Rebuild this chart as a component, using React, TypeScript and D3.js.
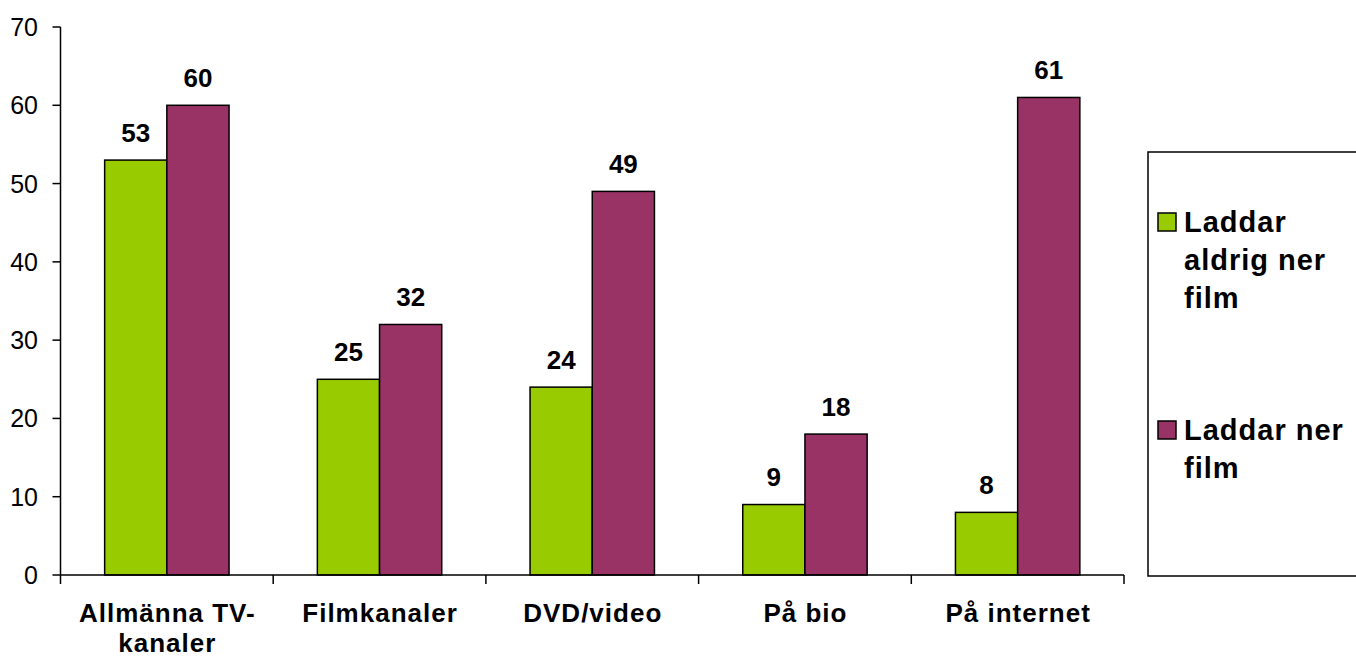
import React from "react";
import * as d3 from "d3";

const categories: string[][] = [
  ["Allmänna TV-", "kanaler"],
  ["Filmkanaler"],
  ["DVD/video"],
  ["På bio"],
  ["På internet"],
];
const seriesNames: string[][] = [
  ["Laddar", "aldrig ner", "film"],
  ["Laddar ner", "film"],
];
const neverDownload = [53, 25, 24, 9, 8];
const download = [60, 32, 49, 18, 61];
const yTicks = [0, 10, 20, 30, 40, 50, 60, 70];
const colors = ["#99CC00", "#993366"];

const W = 1356;
const H = 657;
const FONT = "Arial, 'Liberation Sans', Helvetica, sans-serif";

export default function App() {
  const x0 = 60.5;
  const x1 = 1124;
  const yTop = 27;
  const yBot = 575;

  const idx = categories.map((_, i) => String(i));
  const x = d3.scaleBand<string>().domain(idx).range([x0, x1]).padding(0);
  const xs = d3
    .scaleBand<string>()
    .domain(["0", "1"])
    .range([0, x.bandwidth()])
    .paddingInner(0)
    .paddingOuter(0.71);
  const y = d3.scaleLinear().domain([0, 70]).range([yBot, yTop]);

  const series = [neverDownload, download];

  return (
    <svg
      width={W}
      height={H}
      style={{ position: "absolute", left: 0, top: 0, background: "#fff" }}
      fontFamily={FONT}
    >
      {/* bars */}
      {series.map((vals, s) =>
        vals.map((v, i) => {
          const bx = (x(String(i)) as number) + (xs(String(s)) as number);
          return (
            <rect
              key={`b${s}-${i}`}
              x={bx}
              y={y(v)}
              width={xs.bandwidth()}
              height={y(0) - y(v)}
              fill={colors[s]}
              stroke="#000"
              strokeWidth={1.5}
            />
          );
        })
      )}
      {/* value labels */}
      {series.map((vals, s) =>
        vals.map((v, i) => {
          const cx =
            (x(String(i)) as number) +
            (xs(String(s)) as number) +
            xs.bandwidth() / 2;
          return (
            <text
              key={`l${s}-${i}`}
              x={cx}
              y={y(v) - 18.5}
              textAnchor="middle"
              fontSize={26}
              fontWeight="bold"
              fill="#000"
            >
              {v}
            </text>
          );
        })
      )}
      {/* y axis */}
      <line x1={x0} x2={x0} y1={yTop} y2={yBot} stroke="#000" strokeWidth={1.5} />
      {yTicks.map((t) => (
        <g key={`yt${t}`}>
          <line x1={x0 - 8} x2={x0} y1={y(t)} y2={y(t)} stroke="#000" strokeWidth={1.5} />
          <text
            x={38}
            y={y(t)}
            dy="0.36em"
            textAnchor="end"
            fontSize={25}
            fill="#000"
          >
            {t}
          </text>
        </g>
      ))}
      {/* x axis */}
      <line x1={x0} x2={x1} y1={yBot} y2={yBot} stroke="#000" strokeWidth={1.5} />
      {idx.concat([String(categories.length)]).map((k, i) => {
        const tx = i < categories.length ? (x(k) as number) : x1;
        return (
          <line
            key={`xt${i}`}
            x1={tx}
            x2={tx}
            y1={yBot}
            y2={yBot + 9}
            stroke="#000"
            strokeWidth={1.5}
          />
        );
      })}
      {categories.map((lines, i) => {
        const cx = (x(String(i)) as number) + x.bandwidth() / 2;
        return (
          <text
            key={`c${i}`}
            textAnchor="middle"
            fontSize={26}
            fontWeight="bold"
            letterSpacing={1}
            fill="#000"
          >
            {lines.map((ln, j) => (
              <tspan key={j} x={cx + 0.5} y={622 + j * 30}>
                {ln}
              </tspan>
            ))}
          </text>
        );
      })}
      {/* legend */}
      <rect x={1148} y={152} width={220} height={424} fill="#fff" stroke="#000" strokeWidth={1.5} />
      {seriesNames.map((lines, s) => {
        const base = s === 0 ? 232 : 440;
        return (
          <g key={`lg${s}`}>
            <rect
              x={1158}
              y={base - 19}
              width={18}
              height={18}
              fill={colors[s]}
              stroke="#000"
              strokeWidth={1.5}
            />
            <text fontSize={29} fontWeight="bold" letterSpacing={1} fill="#000">
              {lines.map((ln, j) => (
                <tspan key={j} x={1184} y={base + j * 38}>
                  {ln}
                </tspan>
              ))}
            </text>
          </g>
        );
      })}
    </svg>
  );
}
